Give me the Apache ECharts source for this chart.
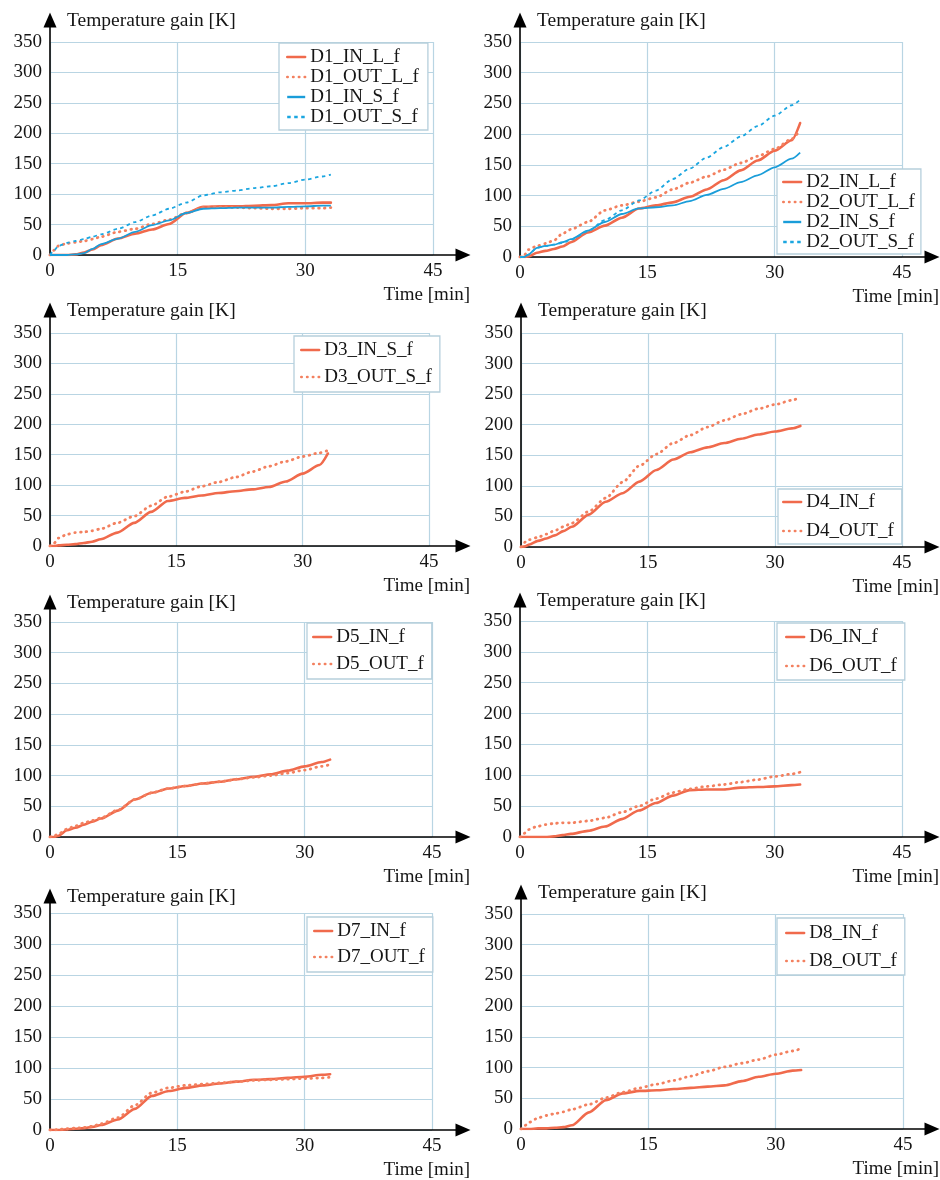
<!DOCTYPE html>
<html>
<head>
<meta charset="utf-8">
<script src="https://cdn.jsdelivr.net/npm/echarts@6/dist/echarts.min.js"></script>
<style>html,body{margin:0;padding:0;background:#fff}#c{width:940px;height:1180px}</style>
</head>
<body>
<div id="c"></div>
<script>
// ---- data (time in min, temperature gain in K) ----
const TIME = [0, 0.5, 1, 2, 3, 4, 5, 6, 8, 10, 12, 14, 16, 18, 20, 22, 24, 26, 28, 30, 32, 33];
const X_TICKS = [0, 15, 30, 45];
const Y_TICKS = [0, 50, 100, 150, 200, 250, 300, 350];
const X_NAME = 'Time [min]';
const Y_NAME = 'Temperature gain [K]';

const D1_IN_L_f  = [0,0,0,0,1,4,9,16,27,35,42,51,69,79,80,80,81,82,85,85,86,86];
const D1_OUT_L_f = [0,8,15,19,21,23,26,30,38,43,51,58,69,78,79,78,77,76,76,77,77,78];
const D1_IN_S_f  = [0,0,0,0,1,3,10,18,27,38,49,57,69,76,77,78,78,78,79,80,81,81];
const D1_OUT_S_f = [0,8,15,20,23,26,30,34,43,54,65,76,86,98,103,106,110,113,118,124,129,132];

const D2_IN_L_f  = [0,0,1,7,10,13,17,24,40,51,64,79,84,89,98,110,125,141,157,173,190,218];
const D2_OUT_L_f = [0,3,12,18,22,27,38,45,57,76,84,90,97,110,121,131,142,153,164,176,192,207];
const D2_IN_S_f  = [0,0,4,15,18,20,24,29,43,57,70,79,81,84,91,101,111,122,133,146,160,170];
const D2_OUT_S_f = [0,0,4,15,18,20,23,28,42,60,76,92,108,127,144,162,179,196,213,230,247,256];

const D3_IN_S_f  = [0,0,1,2,3,5,7,11,22,38,56,74,79,83,87,90,93,97,106,119,133,152];
const D3_OUT_S_f = [0,5,13,19,22,23,25,28,38,49,66,81,89,98,105,113,122,131,139,147,153,157];

const D4_IN_f  = [0,1,4,10,14,19,26,33,53,74,88,107,126,143,155,163,170,177,184,189,194,198];
const D4_OUT_f = [0,8,12,16,21,27,33,39,58,80,106,133,152,170,183,196,207,217,226,233,240,245];

const D5_IN_f  = [0,0,2,11,15,20,25,30,43,61,72,79,83,87,90,94,98,102,108,115,122,126];
const D5_OUT_f = [0,2,5,13,18,23,27,31,44,61,72,79,83,87,90,94,97,100,104,109,115,118];

const D6_IN_f  = [0,0,0,0,0,1,3,5,10,17,29,43,55,67,76,77,77,80,81,82,84,85];
const D6_OUT_f = [0,6,12,17,20,22,23,23,26,31,40,50,62,72,78,82,85,89,93,98,102,105];

const D7_IN_f  = [0,0,0,1,2,3,5,8,17,34,55,63,68,72,75,78,81,82,84,86,89,90];
const D7_OUT_f = [0,0,1,2,3,4,6,10,20,40,60,68,72,74,76,78,80,81,82,83,84,85];

const D8_IN_f  = [0,0,0,1,1,2,3,6,27,47,58,62,63,65,67,69,71,78,85,90,95,96];
const D8_OUT_f = [0,6,11,18,22,25,28,32,40,51,60,67,73,79,86,94,101,107,113,121,127,131];

// ---- styles ----
const FONT = 'Liberation Serif, Times New Roman, serif';
const STY = {
  redSolid:  {color: '#f06a4c', width: 2.6, type: 'solid', cap: 'round'},
  redDot:    {color: '#f3805f', width: 2.8, type: [0.6, 5.2], cap: 'round'},
  blueSolid: {color: '#1a9dd9', width: 1.8, type: 'solid', cap: 'butt'},
  blueDash:  {color: '#1ba6e0', width: 1.8, type: [3.5, 3.5], cap: 'butt'}
};
const GRIDC = '#b9d5e3';

// ---- layout per panel ----
const panels = [
  {left:50, top:42, w:383, h:213, tipY:13, tipX:470,
   series:[['D1_IN_L_f',D1_IN_L_f,'redSolid'],['D1_OUT_L_f',D1_OUT_L_f,'redDot'],['D1_IN_S_f',D1_IN_S_f,'blueSolid'],['D1_OUT_S_f',D1_OUT_S_f,'blueDash']],
   lg:{left:279, top:43, gap:0, pad:[4,9,3,7]}},
  {left:520, top:42, w:382, h:215, tipY:13, tipX:940,
   series:[['D2_IN_L_f',D2_IN_L_f,'redSolid'],['D2_OUT_L_f',D2_OUT_L_f,'redDot'],['D2_IN_S_f',D2_IN_S_f,'blueSolid'],['D2_OUT_S_f',D2_OUT_S_f,'blueDash']],
   lg:{left:777, top:169, gap:0, pad:[3,6,2,5]}},
  {left:50, top:333, w:379, h:213, tipY:303, tipX:470,
   series:[['D3_IN_S_f',D3_IN_S_f,'redSolid'],['D3_OUT_S_f',D3_OUT_S_f,'redDot']],
   lg:{left:294, top:336, gap:7, pad:[4,8,5,6]}},
  {left:521, top:333, w:381, h:214, tipY:303, tipX:940,
   series:[['D4_IN_f',D4_IN_f,'redSolid'],['D4_OUT_f',D4_OUT_f,'redDot']],
   lg:{left:778, top:489, gap:9, pad:[3,8,3,4]}},
  {left:50, top:622, w:382, h:215, tipY:595, tipX:470,
   series:[['D5_IN_f',D5_IN_f,'redSolid'],['D5_OUT_f',D5_OUT_f,'redDot']],
   lg:{left:307, top:623, gap:7, pad:[4,8,5,5]}},
  {left:520, top:621, w:382, h:216, tipY:593, tipX:940,
   series:[['D6_IN_f',D6_IN_f,'redSolid'],['D6_OUT_f',D6_OUT_f,'redDot']],
   lg:{left:777, top:623, gap:9, pad:[4,8,4,8]}},
  {left:50, top:913, w:382, h:217, tipY:889, tipX:470,
   series:[['D7_IN_f',D7_IN_f,'redSolid'],['D7_OUT_f',D7_OUT_f,'redDot']],
   lg:{left:307, top:917, gap:6, pad:[4,8,5,6]}},
  {left:521, top:914, w:382, h:215, tipY:885, tipX:940,
   series:[['D8_IN_f',D8_IN_f,'redSolid'],['D8_OUT_f',D8_OUT_f,'redDot']],
   lg:{left:777, top:918, gap:8, pad:[5,8,4,8]}}
];

const option = {animation:false, grid:[], xAxis:[], yAxis:[], series:[], legend:[]};
const labelStyle = {fontFamily: FONT, fontSize: 19, color: '#151515'};

panels.forEach((p) => {
  const gMain = option.grid.length;
  option.grid.push({left:p.left, top:p.top, width:p.w, height:p.h, containLabel:false});
  const arrowTop = p.tipY + 7;
  const gArrow = option.grid.length;
  option.grid.push({left:p.left, top:arrowTop, width:(p.tipX - 7) - p.left, height:(p.top + p.h) - arrowTop});

  const xi = option.xAxis.length;
  option.xAxis.push({
    type:'value', gridIndex:gMain, min:X_TICKS[0], max:X_TICKS[X_TICKS.length-1], interval:X_TICKS[1]-X_TICKS[0],
    axisLine:{show:false}, axisTick:{show:false},
    axisLabel:Object.assign({margin:7}, labelStyle),
    splitLine:{show:true, lineStyle:{color:GRIDC, width:1.2}}
  });
  option.xAxis.push({
    type:'value', gridIndex:gArrow, min:0, max:1,
    axisLine:{show:true, onZero:false, symbol:['none','triangle'], symbolSize:[13,15], lineStyle:{color:'#000', width:1.6}},
    axisTick:{show:false}, axisLabel:{show:false}, splitLine:{show:false},
    name:X_NAME, nameLocation:'end', nameGap:7,
    nameTextStyle:Object.assign({align:'right', verticalAlign:'top', padding:[31,0,0,0]}, labelStyle)
  });
  const yi = option.yAxis.length;
  option.yAxis.push({
    type:'value', gridIndex:gMain, min:Y_TICKS[0], max:Y_TICKS[Y_TICKS.length-1], interval:Y_TICKS[1]-Y_TICKS[0],
    axisLine:{show:false}, axisTick:{show:false},
    axisLabel:Object.assign({margin:8}, labelStyle),
    splitLine:{show:true, lineStyle:{color:GRIDC, width:1.2}}
  });
  option.yAxis.push({
    type:'value', gridIndex:gArrow, min:0, max:1,
    axisLine:{show:true, onZero:false, symbol:['none','triangle'], symbolSize:[13,15], lineStyle:{color:'#000', width:1.6}},
    axisTick:{show:false}, axisLabel:{show:false}, splitLine:{show:false},
    name:Y_NAME, nameLocation:'end', nameGap:-1,
    nameTextStyle:Object.assign({align:'left', verticalAlign:'middle', padding:[0,0,0,17], fontSize:19.5}, {fontFamily: FONT, color:'#151515'})
  });

  const names = [];
  p.series.forEach(([name, vals, sty]) => {
    names.push(name);
    const s = STY[sty];
    option.series.push({
      type:'line', name:name, xAxisIndex:xi, yAxisIndex:yi,
      data: TIME.map((t, i) => [t, vals[i]]),
      symbol:'none', smooth:0.25, smoothMonotone:'x',
      lineStyle:{color:s.color, width:s.width, type:s.type, cap:s.cap},
      itemStyle:{color:s.color}, z:3
    });
  });

  option.legend.push({
    orient:'vertical', left:p.lg.left, top:p.lg.top, padding:p.lg.pad, itemGap:p.lg.gap,
    itemWidth:18, itemHeight:10, selectedMode:false,
    itemStyle:{opacity:0},
    lineStyle:{width:2.4},
    backgroundColor:'#fff', borderColor:'#b6cfdc', borderWidth:1.3,
    textStyle:Object.assign({lineHeight:20}, labelStyle),
    data:names, z:5
  });
});

const chart = echarts.init(document.getElementById('c'), null, {renderer:'canvas'});
chart.setOption(option);
</script>
</body>
</html>
